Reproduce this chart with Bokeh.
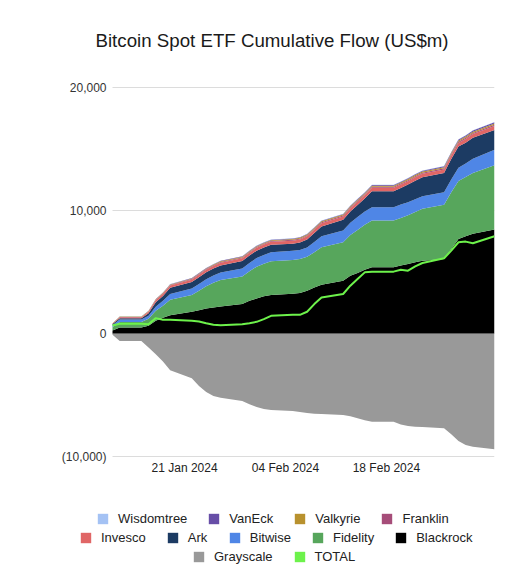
from datetime import datetime
from bokeh.plotting import figure
from bokeh.core.properties import value
from bokeh.models import ColumnDataSource, Legend, LegendItem, Range1d
from bokeh.embed import file_html
from bokeh.resources import INLINE

# ---------------- data (US$m, cumulative) ----------------
dates = ["2024-01-11", "2024-01-12", "2024-01-15", "2024-01-16", "2024-01-17", "2024-01-18",
         "2024-01-19", "2024-01-22", "2024-01-23", "2024-01-24", "2024-01-25", "2024-01-26",
         "2024-01-29", "2024-01-30", "2024-01-31", "2024-02-01", "2024-02-02", "2024-02-05",
         "2024-02-06", "2024-02-07", "2024-02-08", "2024-02-09", "2024-02-12", "2024-02-13",
         "2024-02-14", "2024-02-15", "2024-02-16", "2024-02-19", "2024-02-20", "2024-02-21",
         "2024-02-22", "2024-02-23", "2024-02-26", "2024-02-27", "2024-02-28", "2024-02-29",
         "2024-03-01", "2024-03-04"]

blackrock = [250, 490, 490, 620, 1030, 1280, 1490, 1770, 1900, 2040,
             2120, 2200, 2390, 2660, 2850, 3020, 3120, 3230, 3290, 3480,
             3750, 3970, 4290, 4700, 4920, 5190, 5380, 5380, 5520, 5650,
             5790, 5920, 6060, 6880, 7690, 7910, 8100, 8450]
fidelity = [250, 450, 450, 580, 820, 980, 1250, 1350, 1570, 1800,
            2000, 2150, 2250, 2400, 2580, 2650, 2750, 2750, 2760, 2760,
            2850, 3040, 3130, 3300, 3500, 3650, 3800, 3800, 3880, 3960,
            4080, 4220, 4400, 4600, 4700, 4810, 4950, 5220]
bitwise = [180, 200, 200, 250, 320, 400, 480, 540, 560, 580,
           590, 600, 650, 680, 700, 720, 740, 740, 740, 760,
           830, 900, 950, 1000, 1050, 1080, 1090, 1090, 1080, 1060,
           1040, 1020, 1020, 1050, 1080, 1100, 1150, 1270]
ark = [90, 90, 90, 190, 380, 390, 490, 520, 540, 550,
       565, 585, 600, 600, 605, 605, 605, 585, 600, 650,
       745, 795, 880, 920, 980, 1055, 1305, 1305, 1355, 1440,
       1510, 1550, 1570, 1655, 1730, 1690, 1705, 1600]
invesco = [40, 100, 100, 130, 160, 180, 190, 200, 210, 215,
           220, 225, 225, 230, 235, 240, 240, 245, 245, 250,
           255, 260, 260, 262, 265, 268, 270, 270, 272, 275,
           278, 280, 285, 290, 295, 300, 305, 330]
franklin = [5, 20, 20, 25, 30, 35, 40, 45, 50, 52,
            55, 58, 60, 62, 64, 65, 66, 67, 68, 70,
            72, 74, 75, 76, 78, 80, 80, 80, 82, 84,
            86, 88, 90, 92, 94, 95, 96, 100]
valkyrie = [10, 25, 25, 30, 35, 40, 45, 50, 52, 54,
            56, 58, 60, 62, 64, 66, 68, 70, 72, 74,
            76, 78, 80, 82, 84, 86, 88, 88, 90, 92,
            94, 96, 98, 100, 102, 104, 106, 110]
vaneck = [10, 15, 15, 18, 22, 25, 28, 30, 32, 33,
          34, 35, 36, 37, 38, 39, 40, 41, 42, 43,
          45, 48, 50, 52, 54, 56, 58, 58, 60, 62,
          64, 66, 68, 72, 76, 80, 85, 95]
wisdomtree = [1, 3, 3, 4, 5, 6, 7, 8, 9, 10,
              10, 11, 11, 12, 12, 13, 13, 14, 14, 15,
              15, 16, 16, 17, 17, 18, 18, 18, 19, 19,
              20, 20, 21, 21, 22, 22, 23, 25]
grayscale = [-95, -600, -600, -1140, -1680, -2280, -2980, -3640, -4260, -4750,
             -5080, -5220, -5490, -5760, -5970, -6140, -6220, -6300, -6380, -6460,
             -6520, -6550, -6630, -6730, -6900, -7060, -7170, -7170, -7390, -7520,
             -7580, -7600, -7710, -8200, -8740, -9070, -9210, -9420]
total = [650, 790, 790, 760, 1250, 1110, 1110, 1030, 980, 840,
         710, 680, 760, 840, 950, 1170, 1440, 1520, 1520, 1770,
         2390, 2930, 3210, 3890, 4430, 4970, 5030, 5030, 5190, 5110,
         5460, 5730, 6110, 6740, 7420, 7470, 7340, 7910]

x_tick_dates = ["2024-01-21", "2024-02-04", "2024-02-18"]
y_ticks = [-10000, 0, 10000, 20000]

stack_names = ["Blackrock", "Fidelity", "Bitwise", "Ark", "Invesco",
               "Franklin", "Valkyrie", "VanEck", "Wisdomtree"]
stack_colors = ["#000000", "#57a65c", "#4f86e6", "#1c3b63", "#e06666",
                "#a64d79", "#b8912e", "#674ea7", "#a4c2f4"]
gray_color = "#999999"
total_color = "#6df24b"
legend_rows = [["Wisdomtree", "VanEck", "Valkyrie", "Franklin"],
               ["Invesco", "Ark", "Bitwise", "Fidelity", "Blackrock"],
               ["Grayscale", "TOTAL"]]

# ---------------- layout (px) ----------------
W, H = 522, 577
FL, FR, FT, FB = 56, 494, 70, 570        # frame (incl. tick-label and legend area)
PL, PT, PB = 112, 87, 456                # data area: left, top, bottom
y_lo, y_hi = y_ticks[0], y_ticks[-1]

xd = [datetime.strptime(d, "%Y-%m-%d") for d in dates]
span = xd[-1] - xd[0]
x_start = xd[0] - span * ((PL - FL) / (FR - PL))
per_px = (y_hi - y_lo) / (PB - PT)
y_start = y_lo - per_px * (FB - PB)
y_end = y_hi + per_px * (PT - FT)

source = ColumnDataSource(dict(
    date=xd, Blackrock=blackrock, Fidelity=fidelity, Bitwise=bitwise, Ark=ark,
    Invesco=invesco, Franklin=franklin, Valkyrie=valkyrie, VanEck=vaneck,
    Wisdomtree=wisdomtree, Grayscale=grayscale, TOTAL=total))

p = figure(width=W, height=H, output_backend="svg", toolbar_location=None,
           x_range=Range1d(x_start, xd[-1]), y_range=Range1d(y_start, y_end),
           x_axis_location=None, y_axis_location=None,
           min_border_left=FL, min_border_right=W - FR,
           min_border_top=FT, min_border_bottom=H - FB)
p.grid.visible = False
p.outline_line_color = None

p.title.text = "Bitcoin Spot ETF Cumulative Flow (US$m)"
p.title.text_font = "Liberation Sans"
p.title.text_font_size = "18.7px"
p.title.text_font_style = "normal"
p.title.text_color = "#1a1a1a"
p.title.align = "left"
p.title.offset = 95 - FL
p.title.standoff = 56 - (PT - FT)

# gridlines across the data area
grid_src = ColumnDataSource(dict(x0=[xd[0]] * len(y_ticks), x1=[xd[-1]] * len(y_ticks),
                                 y=y_ticks))
p.segment(x0="x0", x1="x1", y0="y", y1="y", source=grid_src,
          line_color="#dcdcdc", line_width=1)

# areas and line
gray_r = p.varea(x="date", y1=0, y2="Grayscale", source=source,
                 fill_color=gray_color, fill_alpha=1)
stack_rs = p.varea_stack(stackers=stack_names, x="date", color=stack_colors,
                         source=source, fill_alpha=1)
total_sw = p.varea(x="date", y1="TOTAL", y2="TOTAL", source=source,
                   fill_color=total_color)
p.line(x="date", y="TOTAL", source=source, line_color=total_color, line_width=2)

# y tick labels
def fmt_num(v):
    return f"({abs(v):,})" if v < 0 else f"{v:,}"

ylab_src = ColumnDataSource(dict(x=[xd[0]] * len(y_ticks), y=y_ticks,
                                 t=[fmt_num(v) for v in y_ticks]))
p.text(x="x", y="y", text="t", source=ylab_src, x_offset=-6,
       text_align="right", text_baseline="middle",
       text_font=value("Liberation Sans"), text_font_size=value("12px"),
       text_color="#333333")

# x tick labels
xt = [datetime.strptime(d, "%Y-%m-%d") for d in x_tick_dates]
xlab_src = ColumnDataSource(dict(x=xt, y=[y_lo] * len(xt),
                                 t=[d.strftime("%d %b %Y") for d in xt]))
p.text(x="x", y="y", text="t", source=xlab_src, y_offset=4,
       text_align="center", text_baseline="top",
       text_font=value("Liberation Sans"), text_font_size=value("12px"),
       text_color="#222222")

# legends: three centred rows below the data area
rmap = dict(zip(stack_names, stack_rs))
rmap["Grayscale"] = gray_r
rmap["TOTAL"] = total_sw
row_left = [96, 79, 192]
row_top = [510.5, 529.5, 548.5]
item_h = 15
for names, lx, ty in zip(legend_rows, row_left, row_top):
    leg = Legend(items=[LegendItem(label=n, renderers=[rmap[n]]) for n in names],
                 orientation="horizontal", location=(lx - FL, FB - ty - item_h),
                 glyph_width=13, glyph_height=13, label_standoff=9, spacing=20,
                 padding=0, margin=0, label_height=13,
                 label_text_font="Liberation Sans", label_text_font_size="13px",
                 label_text_color="#222222", label_text_baseline="middle",
                 border_line_alpha=0, background_fill_alpha=0)
    p.add_layout(leg, "center")

open("out.html", "w").write(file_html(p, INLINE))
